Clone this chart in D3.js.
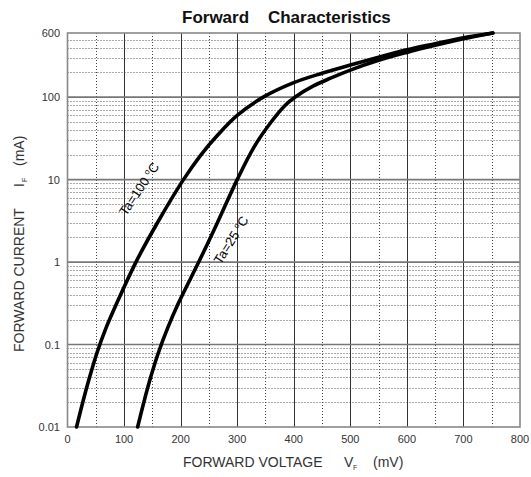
<!DOCTYPE html>
<html><head><meta charset="utf-8">
<script src="https://cdn.jsdelivr.net/npm/d3@7/dist/d3.min.js"></script>
<style>body{margin:0;background:#fff}svg{display:block}text{font-family:"Liberation Sans",Arial,sans-serif}</style>
</head><body>
<svg id="c" width="531" height="477"></svg>
<script>
// ---- data ----
const xTicks = [0,100,200,300,400,500,600,700,800];
const yTicks = [0.01,0.1,1,10,100,600];
const yTickLabels = ["0.01","0.1","1","10","100","600"];
const v100 = [16,27,39,52,68,87,121,159,205,236,266,300,346,400,450,500,550,600,650,700,752];
const i100 = [0.01,0.02,0.04,0.079,0.158,0.316,1,3,10,20,35,60,100,150,195,245,305,375,445,525,600];
const v25 = [124,135,147,160.5,177,196,232,265,300,330,360,385,402,434,465,500,550,600,650,700,752];
const i25 = [0.01,0.02,0.04,0.079,0.158,0.316,1,3,10,25,50,80,100,136,170,213,280,349,425,510,600];

const svg = d3.select("#c");
const L=67.5, R=520, T=33, B=427;
const x = d3.scaleLinear().domain([0,800]).range([L,R]);
const y = d3.scaleLog().domain([0.01,600]).range([B,T]);

const g = svg.append("g");
// minor horizontal grid
const minorY = [];
[0.01,0.1,1,10,100].forEach(d=>{for(let k=2;k<=9;k++){const v=d*k; if(v<600) minorY.push(v);}});
g.selectAll(".mh").data(minorY).enter().append("line")
 .attr("x1",L).attr("x2",R).attr("y1",d=>Math.round(y(d))+0.5).attr("y2",d=>Math.round(y(d))+0.5)
 .attr("stroke","#555").attr("stroke-width",1).attr("stroke-dasharray","1,2");
// minor vertical grid
const minorX = d3.range(50,800,100);
g.selectAll(".mv").data(minorX).enter().append("line")
 .attr("y1",T).attr("y2",B).attr("x1",d=>Math.round(x(d))+0.5).attr("x2",d=>Math.round(x(d))+0.5)
 .attr("stroke","#444").attr("stroke-width",1).attr("stroke-dasharray","1,2");
// major vertical
g.selectAll(".MV").data(xTicks.slice(1,-1)).enter().append("line")
 .attr("y1",T).attr("y2",B).attr("x1",d=>Math.round(x(d))+0.5).attr("x2",d=>Math.round(x(d))+0.5)
 .attr("stroke","#333").attr("stroke-width",1);
// major horizontal
g.selectAll(".MH").data([0.1,1,10,100]).enter().append("line")
 .attr("x1",L).attr("x2",R).attr("y1",d=>y(d)).attr("y2",d=>y(d))
 .attr("stroke","#777").attr("stroke-width",1.6);
// frame
g.append("rect").attr("x",L).attr("y",T).attr("width",R-L).attr("height",B-T)
 .attr("fill","none").attr("stroke","#888").attr("stroke-width",1.6);

// curves
const line = d3.line().x(d=>x(d[0])).y(d=>y(d[1])).curve(d3.curveCatmullRom.alpha(0.5));
[[v100,i100],[v25,i25]].forEach(([vs,is])=>{
  g.append("path").datum(vs.map((v,k)=>[v,is[k]])).attr("d",line)
   .attr("fill","none").attr("stroke","#000").attr("stroke-width",3.6).attr("stroke-linecap","round");
});

// tick labels
svg.selectAll(".xt").data(xTicks).enter().append("text")
 .attr("x",d=>x(d)).attr("y",443).attr("text-anchor","middle")
 .attr("font-size",11).attr("fill","#333").text(d=>d);
svg.selectAll(".yt").data(yTicks).enter().append("text")
 .attr("x",60).attr("y",d=>y(d)+4).attr("text-anchor","end")
 .attr("font-size",11).attr("fill","#333").text((d,k)=>yTickLabels[k]);

// title
svg.append("text").attr("x",182).attr("y",23).attr("font-size",17).attr("font-weight","bold")
 .attr("fill","#111").attr("xml:space","preserve").text("Forward    Characteristics");

// x axis title
const xt = svg.append("text").attr("y",467).attr("font-size",14).attr("fill","#333");
xt.append("tspan").attr("x",183).text("FORWARD VOLTAGE");
xt.append("tspan").attr("x",344).text("V");
xt.append("tspan").attr("x",353).attr("dy",3).attr("font-size",7).text("F");
xt.append("tspan").attr("x",373).attr("dy",-3).text("(mV)");

// y axis title
const yt = svg.append("text").attr("transform","translate(24,0) rotate(-90)").attr("font-size",14).attr("fill","#333");
yt.append("tspan").attr("x",-352).text("FORWARD CURRENT");
yt.append("tspan").attr("x",-187).text("I");
yt.append("tspan").attr("x",-182).attr("dy",3).attr("font-size",7).text("F");
yt.append("tspan").attr("x",-166).attr("dy",-3).text("(mA)");

// curve labels
function clabel(cx,cy,ang,main){
  const t = svg.append("text").attr("transform",`translate(${cx},${cy}) rotate(${ang})`)
   .attr("text-anchor","middle").attr("dy","0.35em").attr("font-size",13).attr("fill","#000");
  t.append("tspan").text(main+" ");
  t.append("tspan").attr("font-size",8).attr("dy",-5).text("o");
  t.append("tspan").attr("dy",5).text("C");
}
clabel(139,189,-56,"Ta=100");
clabel(231,240,-58,"Ta=25");
</script>
</body></html>
